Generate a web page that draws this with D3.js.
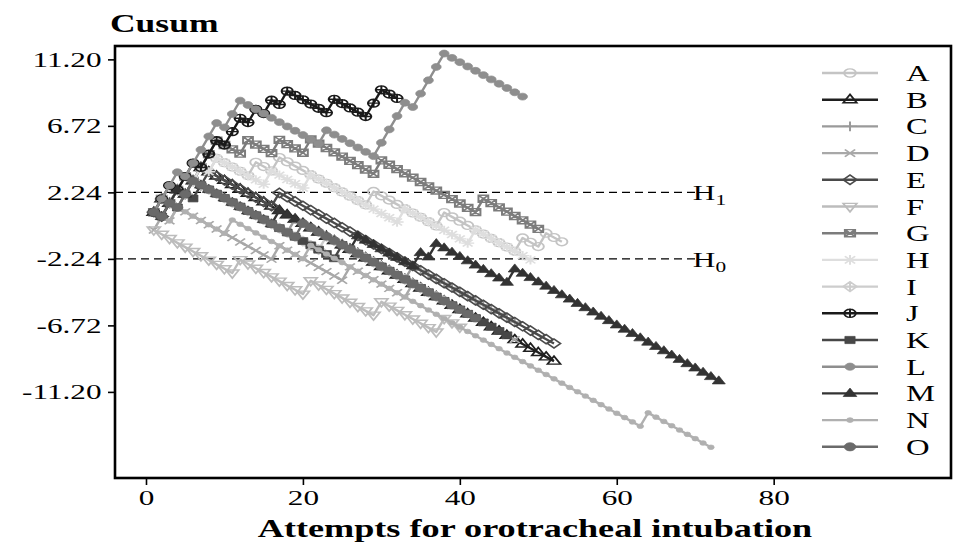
<!DOCTYPE html>
<html>
<head>
<meta charset="utf-8">
<script src="https://cdn.jsdelivr.net/npm/d3@7"></script>
<style>
  body { margin: 0; background: #fff; }
  text { font-family: "Liberation Serif", "Times New Roman", serif; }
</style>
</head>
<body>
<svg id="chart" width="954" height="549"></svg>
<script>
// operators A..O, outcome of each intubation attempt (run-length: F = failed, S = successful)
const seriesNames = ["A", "B", "C", "D", "E", "F", "G", "H", "I", "J", "K", "L", "M", "N", "O"];
const seriesRuns = [
  "F2 S1 F2 S1 F1 S1 F1 S4 F1 S2 F1 S11 F1 S8 F1 S9 F1 S2 F1 S2",
  "F2 S1 F1 S1 F2 S45",
  "F2 S1 F1 S1 F1 S12 F1 S14 F1 S13",
  "S1 F1 S1 F1 S12 F1 S8 F1 S7 F1 S13",
  "F1 S1 F2 S1 F1 S1 F1 S8 F1 S35",
  "S11 F1 S8 F1 S8 F1 S7 F1 S2",
  "F2 S1 F2 S1 F3 S3 F1 S3 F1 S3 F1 S8 F1 S12 F1 S7",
  "F2 S1 F1 S1 F2 S1 F1 S6 F1 S4 F1 S11 F1 S8 F1 S7",
  "F2 S1 F1 S1 F1 S16 F1 S15",
  "F3 S1 F2 S1 F2 S1 F2 S1 F1 S1 F1 S1 F1 S5 F1 S4 F2 S2",
  "F1 S1 F1 S1 F1 S1 F1 S17 F1 S21",
  "F4 S1 F4 S1 F2 S10 F1 S6 F4 S1 F4 S10",
  "F1 S1 F2 S1 F1 S10 F1 S9 F1 S7 F1 S1 F1 S9 F1 S26",
  "F1 S2 F1 S6 F1 S9 F1 S42 F1 S8",
  "F1 S1 F1 S1 F2 S13 F1 S22"
];
// cusum increments for a failure / a success
const failWeight = 0.9;
const successWeight = -0.29;

const yTicks = [-11.2, -6.72, -2.24, 2.24, 6.72, 11.2];
const xTicks = [0, 20, 40, 60, 80];
const limitValues = [2.24, -2.24];
const limitSubs = ["1", "0"];

// grey palette and point shapes per operator
const seriesColors = ["#c4c4c4", "#1f1f1f", "#9a9a9a", "#a8a8a8", "#4a4a4a", "#bcbcbc", "#7c7c7c",
  "#dedede", "#cdcdcd", "#1a1a1a", "#474747", "#8e8e8e", "#333333", "#b0b0b0", "#6a6a6a"];
const seriesShapes = ["circleOpen", "triangleOpen", "plus", "cross", "diamondOpen", "triangleDownOpen",
  "squareCross", "asterisk", "diamondPlus", "circlePlus", "square", "circle", "triangle", "dot", "circleBig"];

const svg = d3.select("#chart");
const sx = 1.42; // the picture is stretched sideways

const x = d3.scaleLinear().domain([-3.95, 102.6]).range([115, 951]);
const y = d3.scaleLinear().domain([-17.0, 12.1]).range([478, 46]);

svg.append("rect").attr("width", 954).attr("height", 549).attr("fill", "#fff");

function cusumOf(runs) {
  let steps = [];
  runs.split(" ").forEach(tok => {
    let w = tok[0] === "F" ? failWeight : successWeight;
    let n = +tok.slice(1);
    for (let i = 0; i < n; i++) steps.push(w);
  });
  return Array.from(d3.cumsum(steps), (v, i) => ({attempt: i + 1, value: v}));
}

function markerPath(shape, r) {
  const k = r * 0.75;
  const circ = rr => `M${rr},0A${rr},${rr} 0 1,1 ${-rr},0A${rr},${rr} 0 1,1 ${rr},0Z`;
  const plus = `M${-r},0H${r}M0,${-r}V${r}`;
  const cross = `M${-k},${-k}L${k},${k}M${-k},${k}L${k},${-k}`;
  const dia = `M0,${-r}L${r},0L0,${r}L${-r},0Z`;
  const sq = `M${-k},${-k}H${k}V${k}H${-k}Z`;
  const tri = `M0,${-r * 1.1}L${r},${r * 0.65}L${-r},${r * 0.65}Z`;
  const triDown = `M0,${r * 1.1}L${r},${-r * 0.65}L${-r},${-r * 0.65}Z`;
  switch (shape) {
    case "circleOpen": return circ(r * 0.85);
    case "triangleOpen": return tri;
    case "plus": return plus;
    case "cross": return cross;
    case "diamondOpen": return dia;
    case "triangleDownOpen": return triDown;
    case "squareCross": return sq + cross;
    case "asterisk": return plus + cross;
    case "diamondPlus": return dia + plus;
    case "circlePlus": return circ(r * 0.85) + plus;
    case "square": return sq;
    case "circle": return circ(r * 0.75);
    case "triangle": return tri;
    case "dot": return circ(r * 0.5);
    case "circleBig": return circ(r * 0.85);
  }
}
const filledShapes = ["square", "circle", "triangle", "dot", "circleBig"];

function drawMarker(g, shape, color, px, py, r) {
  let filled = filledShapes.includes(shape);
  g.append("path")
    .attr("d", markerPath(shape, r))
    .attr("transform", `translate(${px},${py}) scale(${sx},1)`)
    .attr("fill", filled ? color : "none")
    .attr("stroke", color)
    .attr("stroke-width", filled ? 0.6 : 1.4);
}

function stretchedText(g, px, py, str, size, weight, anchor) {
  return g.append("text")
    .attr("transform", `translate(${px},${py}) scale(${sx},1)`)
    .attr("font-size", size)
    .attr("font-weight", weight || "normal")
    .attr("text-anchor", anchor || "start")
    .attr("fill", "#000")
    .text(str);
}

// limit lines H1 / H0
const limits = svg.append("g");
limitValues.forEach((v, i) => {
  limits.append("line")
    .attr("x1", x(-3.95)).attr("x2", x(70))
    .attr("y1", y(v)).attr("y2", y(v))
    .attr("stroke", "#000").attr("stroke-width", 1.4)
    .attr("stroke-dasharray", "8,5");
  let t = stretchedText(limits, x(69.7), y(v) + 8, "H", 22);
  t.append("tspan").attr("dy", 5).attr("font-size", 15).text(limitSubs[i]);
});

// series
const line = d3.line().x(d => x(d.attempt)).y(d => y(d.value));
const plot = svg.append("g");
seriesNames.forEach((name, i) => {
  let data = cusumOf(seriesRuns[i]);
  let g = plot.append("g");
  g.append("path").datum(data)
    .attr("d", line)
    .attr("fill", "none")
    .attr("stroke", seriesColors[i])
    .attr("stroke-width", 2.4)
    .attr("stroke-linejoin", "round");
  data.forEach(d => drawMarker(g, seriesShapes[i], seriesColors[i], x(d.attempt), y(d.value), 4.6));
});

// legend
const legend = svg.append("g");
const legendTop = 73, legendStep = 26.7;
seriesNames.forEach((name, i) => {
  let ly = legendTop + i * legendStep;
  legend.append("line")
    .attr("x1", 822).attr("x2", 878).attr("y1", ly).attr("y2", ly)
    .attr("stroke", seriesColors[i]).attr("stroke-width", 2.4);
  drawMarker(legend, seriesShapes[i], seriesColors[i], 850, ly, 4.8);
  stretchedText(legend, 906, ly + 8, name, 23);
});

// axes
const yAxis = svg.append("g")
  .attr("transform", `translate(${x(-3.95)},0)`)
  .call(d3.axisLeft(y).tickValues(yTicks).tickFormat(d => d.toFixed(2)).tickSize(7).tickPadding(6));
const xAxis = svg.append("g")
  .attr("transform", `translate(0,${y(-17.0)})`)
  .call(d3.axisBottom(x).tickValues(xTicks).tickSize(7).tickPadding(4));

[yAxis, xAxis].forEach(a => {
  a.select(".domain").remove();
  a.selectAll(".tick line").attr("stroke", "#000").attr("stroke-width", 1.6);
  a.selectAll(".tick text")
    .attr("font-size", 22)
    .attr("fill", "#000")
    .attr("font-family", "Liberation Serif, serif")
    .attr("transform", `scale(${sx},1)`);
});
// the x tick text must only stretch around its own centre
xAxis.selectAll(".tick text").attr("x", 0);
yAxis.selectAll(".tick text").attr("x", -9.5);

// panel frame
svg.append("rect")
  .attr("x", 115).attr("y", 46)
  .attr("width", 836).attr("height", 432)
  .attr("fill", "none").attr("stroke", "#000").attr("stroke-width", 2.6);

// titles
stretchedText(svg, 110, 32, "Cusum", 25, "bold");
stretchedText(svg, 535, 537, "Attempts for orotracheal intubation", 25.5, "bold", "middle");
</script>
</body>
</html>
